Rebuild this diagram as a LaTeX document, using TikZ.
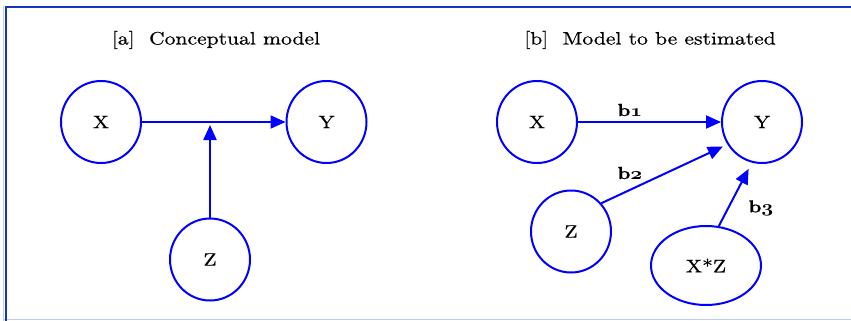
\documentclass[tikz,border=0pt]{standalone}
\usepackage{fontspec}
\newfontfamily\widefont{lmroman10-regular.otf}[FakeStretch=1.2,FakeBold=0.5]
\newfontfamily\widebold{lmroman10-bold.otf}[FakeStretch=1.15,FakeBold=0.5]
\usetikzlibrary{arrows.meta,shapes.geometric}
\definecolor{framedark}{RGB}{20,55,185}
\definecolor{framelight}{RGB}{190,205,240}
\definecolor{nodeblue}{RGB}{0,0,255}
\newcommand\osfdigit[1]{\scalebox{1.2}[1]{\usefont{OML}{cmm}{b}{it}#1}}
\begin{document}
\begin{tikzpicture}[x=1pt,y=-1pt,
  var/.style={ellipse,draw=nodeblue,line width=2pt,minimum width=80pt,minimum height=82pt,inner sep=0pt,font=\widefont\fontsize{18}{21}\selectfont},
  link/.style={draw=nodeblue,line width=2pt,-{Triangle[length=15pt,width=13pt]}},
  coef/.style={font=\widebold\fontsize{17.5}{20}\selectfont},
  ttl/.style={font=\widefont\fontsize{18}{22}\selectfont}]
\useasboundingbox (0,0) rectangle (851,321);
% frame
\draw[framelight,line width=1.5pt] (3.5,6) -- (3.5,321);
\draw[framelight,line width=1.5pt] (3,319.5) -- (851,319.5);
\draw[framedark,line width=2.5pt] (6,321) -- (6,7) -- (851,7);
% titles
\node[ttl] (ta) at (216,40) {[a]\ \ Conceptual model};
\node[ttl] (tb) at (650,40) {[b]\ \ Model to be estimated};
% panel a
\node[var] (xa) at (101,122) {X};
\node[var] (ya) at (326.5,122) {Y};
\node[var] (za) at (210,259.5) {Z};
\draw[link] (xa) -- (ya);
\draw[link,shorten >=3pt] (za) -- (za |- xa);
% panel b
\node[var] (xb) at (537,122) {X};
\node[var] (yb) at (762,122) {Y};
\node[var] (zb) at (571,231.5) {Z};
\node[var,minimum width=110pt,minimum height=79pt] (xzb) at (706,265.5) {X*Z};
\draw[link] (xb) -- (yb);
\draw[link,shorten >=5pt] (zb.43) -- (yb.213);
\draw[link,shorten >=7pt] (xzb.72) -- (yb.256);
\node[coef] (b1) at (630,110) {b\osfdigit{1}};
\node[coef] (b2) at (630,173) {b\osfdigit{2}};
\node[coef] (b3) at (761,208) {b\osfdigit{3}};
\end{tikzpicture}
\end{document}
